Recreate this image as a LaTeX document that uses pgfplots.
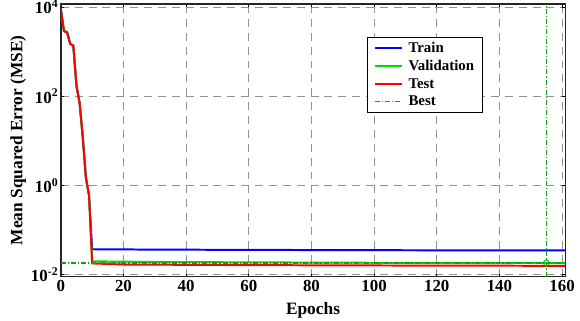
\documentclass[border=0pt]{standalone}
\usepackage{pgfplots}
\pgfplotsset{compat=1.18}
\usepackage{fontspec}
\setmainfont{Liberation Serif}
\definecolor{trainc}{RGB}{0,0,255}
\definecolor{valc}{RGB}{0,220,0}
\definecolor{testc}{RGB}{255,0,0}
\definecolor{bestc}{RGB}{20,160,20}
\pgfplotsset{legend image code/.code={\draw[#1] (0cm,0cm) -- (0.95cm,0cm);}}
\begin{document}
\begin{tikzpicture}
\begin{axis}[
  scale only axis,
  width=507bp, height=274bp,
  ymode=log,
  xmin=0, xmax=161,
  ymin=0.0090, ymax=11700,
  xtick={0,20,...,160},
  ytick={0.01,1,100,10000},
  yticklabels={10\textsuperscript{-2},10\textsuperscript{0},10\textsuperscript{2},10\textsuperscript{4}},
  minor ytick={},
  /pgf/number format/assume math mode=true,
  tick label style={font=\fontsize{17}{18}\selectfont\bfseries, black},
  yticklabel style={inner xsep=2.5pt, inner ysep=0pt},
  xticklabel style={yshift=0pt},
  label style={font=\fontsize{17.5}{19}\selectfont\bfseries},
  xlabel={Epochs},
  ylabel={Mean Squared Error (MSE)},
  xlabel style={inner sep=0pt, yshift=-8pt},
  ylabel style={yshift=-1pt},
  grid=major,
  major grid style={gray!85, line width=1.1pt, dash pattern=on 8pt off 6pt},
  tick align=inside,
  major tick length=3pt,
  tick style={black, line width=1pt},
  axis line style={line width=1.4pt, black!85},
  legend style={at={(rel axis cs:0.608,0.88)}, anchor=north west,
    font=\fontsize{15}{18}\selectfont\bfseries, draw=black, line width=0.8pt,
    inner xsep=6pt, inner ysep=3pt, row sep=2.5pt, column sep=4pt},
  legend cell align=left,
]
\addplot[trainc, line width=2pt] coordinates {
(0,9000) (1,2900) (2,2700) (3,1500) (4,1350) (5,170) (6,70) (7,12) (8,1.5) (9,0.6)
(10,0.037) (30,0.0363) (60,0.0358) (100,0.0352) (161,0.0348)};
\addlegendentry{Train}
\addplot[valc, line width=2pt] coordinates {
(0,9000) (1,2950) (2,2750) (3,1520) (4,1370) (5,175) (6,72) (7,12.5) (8,1.5) (9,0.6)
(10,0.0198) (30,0.0192) (60,0.0188) (100,0.0184) (155,0.0182) (161,0.0181)};
\addlegendentry{Validation}
\addplot[testc, line width=2pt] coordinates {
(0,9000) (1,2900) (2,2700) (3,1500) (4,1350) (5,170) (6,70) (7,12) (8,1.5) (9,0.6)
(10,0.0178) (20,0.0168) (60,0.0163) (100,0.0160) (161,0.0157)};
\addlegendentry{Test}
\addplot[bestc, line width=1.1pt, dash pattern=on 5pt off 2pt on 1.2pt off 2pt] coordinates {(0,0.0182) (161,0.0182)};
\addlegendentry{Best}
\addplot[bestc, line width=1.1pt, dash pattern=on 5pt off 2pt on 1.2pt off 2pt, forget plot] coordinates {(155,0.0090) (155,11700)};
\addplot[bestc, line width=0.8pt, only marks, mark=o, mark size=3pt, forget plot] coordinates {(155,0.0182)};
\end{axis}
\path (current bounding box.north west) ++(-7bp,0) coordinate (bbx);
\path (bbx) -- (bbx);
\path (current bounding box.north east) ++(2bp,0) coordinate (bbe);
\path (bbe) -- (bbe);
\path (current bounding box.south west) ++(0,-2bp) coordinate (bbs);
\path (bbs) -- (bbs);
\end{tikzpicture}
\end{document}
